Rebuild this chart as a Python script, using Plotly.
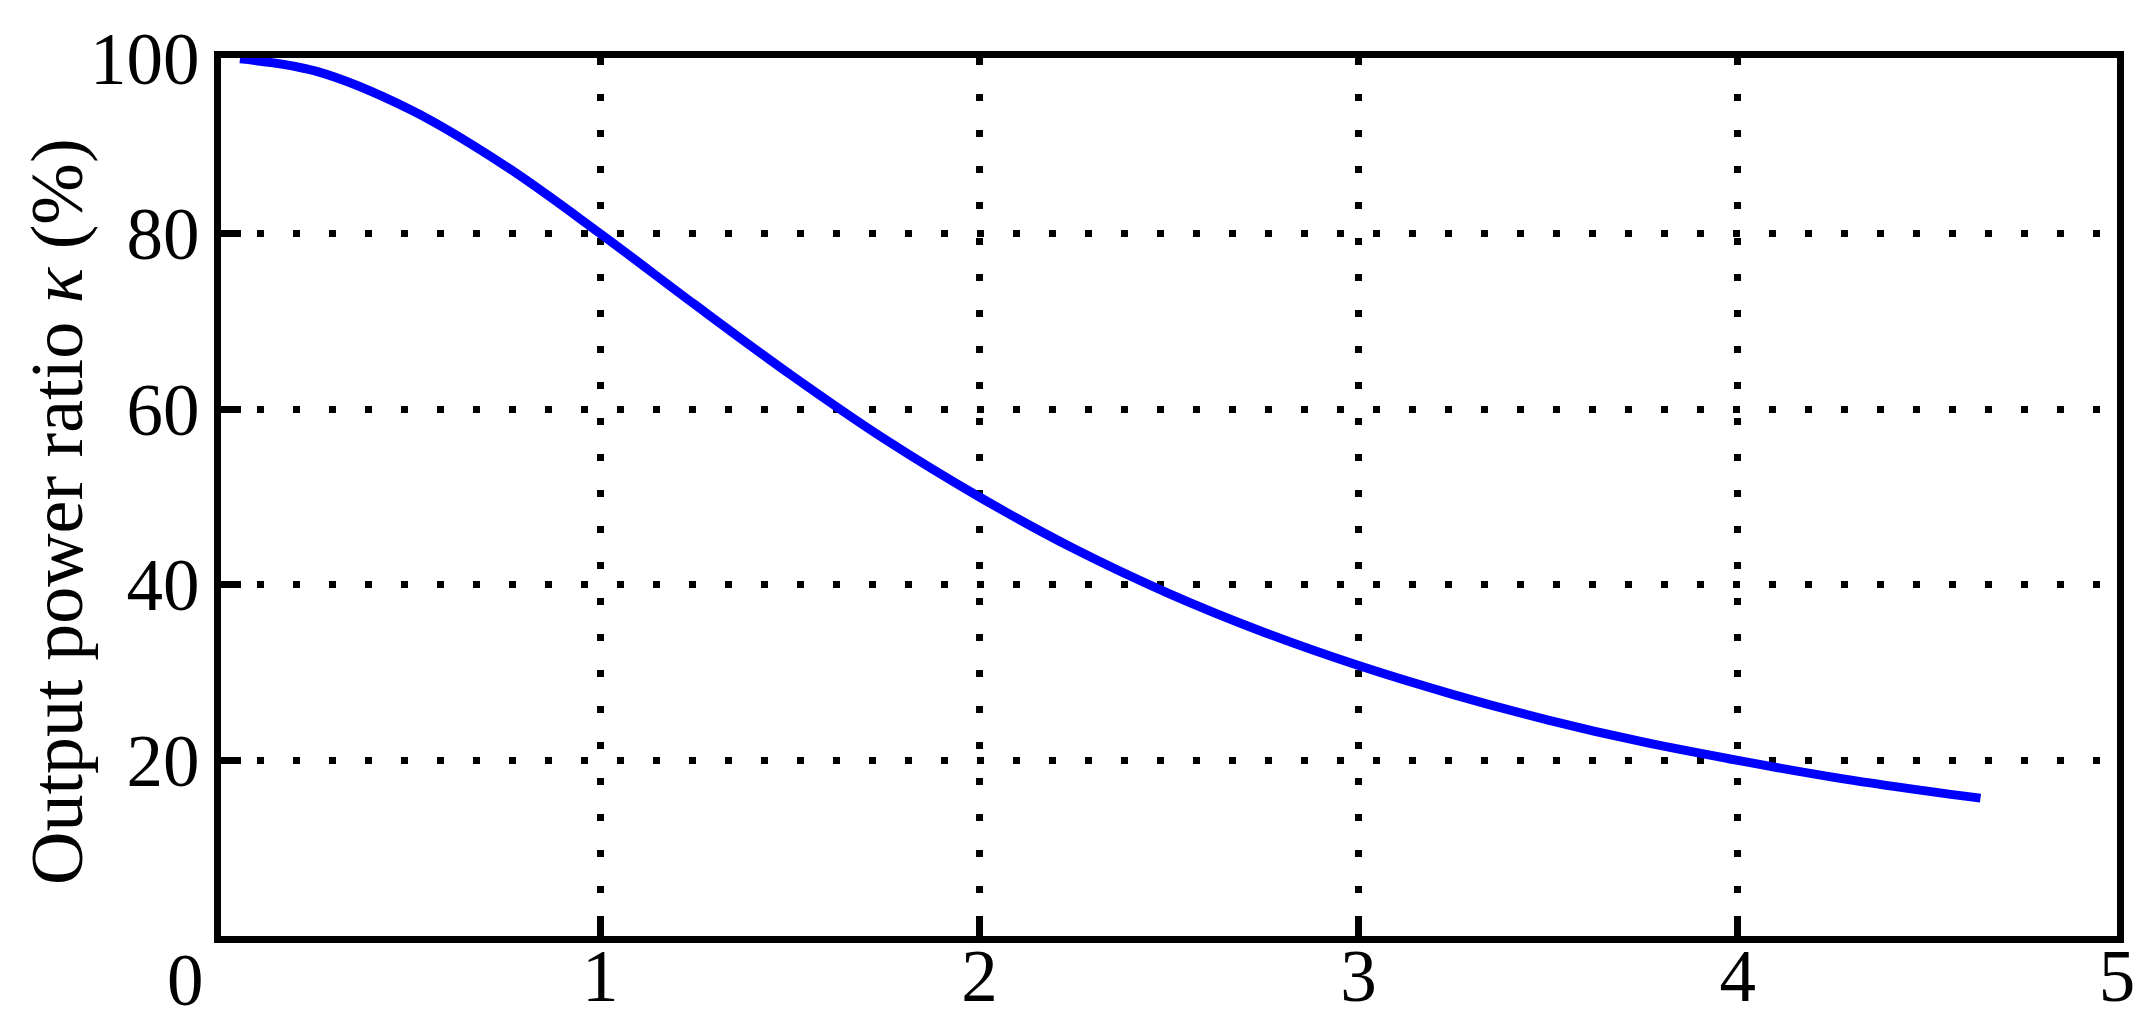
import plotly.graph_objects as go

# curve (x, output power ratio in %)
x_vals = [0.05, 0.25, 0.5, 0.75, 1.0, 1.25, 1.5, 1.75, 2.0, 2.25,
          2.5, 2.75, 3.0, 3.25, 3.5, 3.75, 4.0, 4.25, 4.5, 4.64]
kappa = [99.9, 98.5, 94.1, 87.7, 80.0, 71.9, 64.0, 56.6, 50.0, 44.1,
         39.0, 34.6, 30.8, 27.5, 24.6, 22.1, 20.0, 18.1, 16.5, 15.7]

x_ticks = [0, 1, 2, 3, 4, 5]
x_labels = ['', '1', '2', '3', '4', '5']   # the "0" sits left of the corner, drawn below
y_ticks = [20, 40, 60, 80, 100]

font_name = 'Liberation Serif, Times New Roman, serif'
tick_font = dict(family=font_name, size=73, color='black')

fig = go.Figure()
fig.add_trace(go.Scatter(
    x=x_vals, y=kappa, mode='lines',
    line=dict(color='#0000ff', width=9, shape='spline'),
    showlegend=False,
))

axis_common = dict(
    showline=True, linecolor='black', linewidth=7, mirror=True,
    ticks='inside', ticklen=20, tickwidth=7, tickcolor='black',
    showgrid=True, gridcolor='black', gridwidth=7, griddash='7px,29px',
    zeroline=False, layer='below traces', automargin=False,
    tickfont=tick_font,
)

fig.update_xaxes(range=[0, 5], tickvals=x_ticks, ticktext=x_labels,
                 ticklabelstandoff=-30, **axis_common)
fig.update_yaxes(range=[0, 100], tickvals=y_ticks, **axis_common)

# origin label, shifted left of the axis corner as in the original
fig.add_annotation(x=x_ticks[0], y=0, xref='x', yref='paper',
                   text='0', showarrow=False, font=tick_font,
                   xanchor='center', yanchor='top', xshift=-36, yshift=-2)

# y title as an annotation so it can sit a bit below the axis middle
fig.add_annotation(x=0, y=0.483, xref='paper', yref='paper',
                   text='Output power ratio <i>κ</i> (%)', textangle=-90,
                   showarrow=False, xanchor='center', yanchor='middle',
                   xshift=-164,
                   font=dict(family=font_name, size=74, color='black'))

# page body has an 8px margin, so the figure is a little smaller than the window
fig.update_layout(
    width=2141, height=1020,
    margin=dict(l=213, r=32, t=50, b=92),
    plot_bgcolor='white', paper_bgcolor='white',
)

fig.write_html('out.html')
